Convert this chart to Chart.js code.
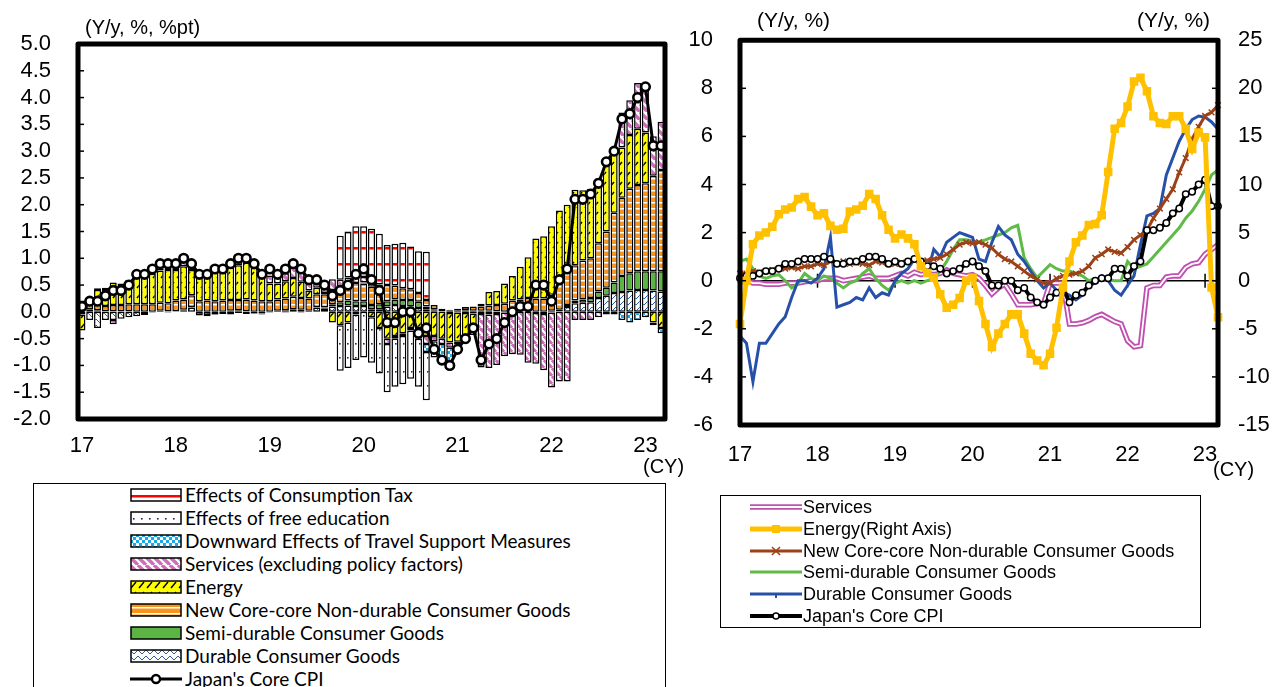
<!DOCTYPE html>
<html>
<head>
<meta charset="utf-8">
<script src="https://cdn.jsdelivr.net/npm/chart.js@4.4.0/dist/chart.umd.min.js"></script>
<style>
  html, body { margin: 0; padding: 0; background: #fff; overflow: hidden; }
  #wrap { position: relative; width: 1275px; height: 687px; font-family: 'Liberation Sans', Arial, sans-serif; color: #000; }
  canvas.chart { position: absolute; }
  .title { position: absolute; font-size: 20px; white-space: nowrap; }
  .cy { position: absolute; font-size: 20px; }
  .legend { position: absolute; border: 1.5px solid #000; box-sizing: border-box; background: transparent; }
  .row { position: relative; display: flex; align-items: center; white-space: nowrap; }
  .row canvas { position: absolute; }
  .row span { position: absolute; }
  #legL { font-family: Lato, 'Open Sans', sans-serif; font-size: 19px; }
  #legR { font-family: 'Liberation Sans', Arial, sans-serif; font-size: 18px; }
</style>
</head>
<body>
<div id="wrap">
  <canvas id="left" class="chart" width="700" height="470" style="left:0;top:0"></canvas>
  <canvas id="right" class="chart" width="585" height="470" style="left:690px;top:0"></canvas>
  <div class="title" style="left:85px;top:16px">(Y/y, %, %pt)</div>
  <div class="title" style="left:757px;top:8px;font-size:21px">(Y/y, %)</div>
  <div class="title" style="left:1137px;top:8px;font-size:21px">(Y/y, %)</div>
  <div class="cy" style="left:643px;top:455px">(CY)</div>
  <div class="cy" style="left:1213px;top:458px">(CY)</div>
  <div id="legL" class="legend" style="left:33px;top:483px;width:633px;height:220px"></div>
  <div id="legR" class="legend" style="left:720px;top:495px;width:481px;height:133px"></div>
</div>
<script>
// year tick labels, one per January
const years = ['17', '18', '19', '20', '21', '22', '23'];

// Japan's core CPI, y/y %, Jan 2017 - Mar 2023
const coreCPI = [
  0.1, 0.2, 0.2, 0.3, 0.4, 0.4, 0.5, 0.7, 0.7, 0.8, 0.9, 0.9,
  0.9, 1.0, 0.9, 0.7, 0.7, 0.8, 0.8, 0.9, 1.0, 1.0, 0.9, 0.7,
  0.8, 0.7, 0.8, 0.9, 0.8, 0.6, 0.6, 0.5, 0.3, 0.4, 0.5, 0.7,
  0.8, 0.6, 0.4, -0.2, -0.2, 0.0, 0.0, -0.4, -0.3, -0.7, -0.9, -1.0,
  -0.7, -0.5, -0.3, -0.9, -0.6, -0.5, -0.2, 0.0, 0.1, 0.1, 0.5, 0.5,
  0.2, 0.6, 0.8, 2.1, 2.1, 2.2, 2.4, 2.8, 3.0, 3.6, 3.7, 4.0,
  4.2, 3.1, 3.1
];

// ---- left chart: contributions, %pt ----
const cDurable = [
  -0.05, -0.15, -0.3, -0.15, -0.15, -0.13, -0.1, -0.08, -0.04, 0.0, 0.0, -0.01,
  0.01, 0.03, 0.08, -0.06, -0.06, -0.05, -0.04, -0.05, -0.02, -0.04, -0.03, -0.03,
  0.0, 0.02, 0.03, 0.05, 0.04, 0.02, 0.08, 0.06, 0.1, 0.11, 0.12, 0.11,
  0.11, 0.05, 0.05, 0.1, 0.13, 0.11, 0.1, 0.07, 0.05, 0.02, 0.0, -0.02,
  -0.01, -0.02, -0.03, -0.04, -0.05, -0.04, -0.01, -0.01, 0.01, 0.0, -0.02, -0.04,
  -0.01, 0.01, 0.09, 0.16, 0.17, 0.18, 0.26, 0.3, 0.35, 0.37, 0.4, 0.41,
  0.41, 0.4, 0.38
];
const cSemi = [
  0.05, 0.05, 0.03, 0.01, 0.01, 0.01, 0.01, 0.0, -0.02, -0.01, 0.02, 0.01,
  0.0, 0.01, 0.01, -0.01, -0.02, -0.01, 0.0, 0.02, 0.03, 0.01, -0.01, -0.02,
  -0.01, 0.0, -0.01, 0.0, -0.01, 0.0, 0.01, 0.02, 0.04, 0.07, 0.09, 0.09,
  0.09, 0.08, 0.09, 0.1, 0.1, 0.11, 0.12, 0.12, 0.05, 0.03, 0.01, 0.02,
  0.03, 0.03, 0.02, 0.02, 0.02, 0.01, 0.0, 0.01, 0.0, 0.0, 0.0, 0.0,
  0.02, 0.03, 0.04, 0.05, 0.06, 0.08, 0.12, 0.15, 0.2, 0.3, 0.32, 0.35,
  0.35, 0.36, 0.38
];
const cNewCore = [
  0.08, 0.08, 0.1, 0.1, 0.12, 0.12, 0.13, 0.14, 0.14, 0.14, 0.15, 0.15,
  0.2, 0.19, 0.22, 0.2, 0.21, 0.2, 0.21, 0.2, 0.19, 0.22, 0.21, 0.2,
  0.2, 0.21, 0.22, 0.23, 0.22, 0.23, 0.24, 0.25, 0.27, 0.3, 0.33, 0.34,
  0.33, 0.34, 0.32, 0.3, 0.26, 0.22, 0.2, 0.16, 0.12, 0.08, 0.05, 0.02,
  0.03, 0.06, 0.08, 0.08, 0.1, 0.12, 0.15, 0.2, 0.22, 0.26, 0.25, 0.25,
  0.3, 0.5, 0.65, 0.66, 0.73, 0.74, 0.9, 1.05, 1.3, 1.46, 1.58, 1.61,
  1.64, 1.78, 1.89
];
const cEnergy = [
  -0.3, 0.05, 0.28, 0.3, 0.42, 0.37, 0.41, 0.55, 0.55, 0.57, 0.6, 0.62,
  0.57, 0.62, 0.47, 0.47, 0.49, 0.56, 0.53, 0.61, 0.65, 0.69, 0.61, 0.45,
  0.33, 0.3, 0.32, 0.35, 0.3, 0.15, 0.12, 0.02, -0.2, -0.25, -0.2, -0.05,
  0.02, -0.1, -0.3, -0.5, -0.45, -0.4, -0.3, -0.3, -0.45, -0.45, -0.5, -0.55,
  -0.55, -0.42, -0.25, 0.05, 0.25, 0.26, 0.38, 0.46, 0.61, 0.76, 1.12, 1.16,
  1.28, 1.35, 1.22, 1.41, 1.31, 1.3, 1.21, 1.31, 1.19, 0.94, 1.0, 1.05,
  0.95, -0.2, -0.3
];
const cServices = [
  0.08, 0.05, 0.03, 0.04, -0.08, 0.03, 0.05, 0.06, 0.07, 0.1, 0.12, 0.13,
  0.12, 0.15, 0.12, 0.1, 0.08, 0.1, 0.1, 0.12, 0.15, 0.12, 0.12, 0.1,
  0.15, 0.18, 0.15, 0.2, 0.17, 0.15, 0.15, 0.17, 0.2, 0.12, 0.1, 0.1,
  0.1, 0.08, 0.05, -0.1, -0.05, -0.05, -0.05, -0.1, -0.15, -0.1, -0.1, -0.1,
  -0.05, -0.05, -0.05, -1.0, -1.0, -0.95, -0.82, -0.78, -0.8, -0.95, -0.95, -1.05,
  -1.4, -1.3, -1.3, -0.15, -0.15, -0.15, -0.1, -0.05, -0.05, 0.65, 0.65, 0.85,
  0.85, 0.74, 0.9
];
const cTravel = [
  0, 0, 0, 0, 0, 0, 0, 0, 0, 0, 0, 0,
  0, 0, 0, 0, 0, 0, 0, 0, 0, 0, 0, 0,
  0, 0, 0, 0, 0, 0, 0, 0, 0, 0, 0, 0,
  0, 0, 0, 0, 0, 0, 0, -0.1, -0.15, -0.2, -0.25, -0.25,
  -0.05, 0, 0, 0, 0, 0, 0, 0, 0, 0, 0, 0,
  0, 0, 0, 0, 0, 0, 0, 0, 0, -0.15, -0.2, -0.15,
  -0.1, -0.05, -0.1
];
const cEducation = [
  0, 0, 0, 0, 0, 0, 0, 0, 0, 0, 0, 0,
  0, 0, 0, 0, 0, 0, 0, 0, 0, 0, 0, 0,
  0, 0, 0, 0, 0, 0, 0, 0, 0, -0.85, -0.85, -0.85,
  -0.85, -0.85, -0.85, -0.9, -0.9, -0.9, -0.9, -0.9, -0.9, -0.1, -0.1, -0.1,
  -0.1, -0.1, -0.1, 0, 0, 0, 0, 0, 0, 0, 0, 0,
  0, 0, 0, 0, 0, 0, 0, 0, 0, 0, 0, 0,
  0, 0, 0
];
const cTax = [
  0, 0, 0, 0, 0, 0, 0, 0, 0, 0, 0, 0,
  0, 0, 0, 0, 0, 0, 0, 0, 0, 0, 0, 0,
  0, 0, 0, 0, 0, 0, 0, 0, 0, 0.82, 0.86, 0.96,
  0.95, 1.0, 0.95, 0.75, 0.78, 0.85, 0.8, 0.78, 0.9, 0, 0, 0,
  0, 0, 0, 0, 0, 0, 0, 0, 0, 0, 0, 0,
  0, 0, 0, 0, 0, 0, 0, 0, 0, 0, 0, 0,
  0, 0, 0
];

// ---- right chart: y/y % ----
const rServices = [
  0.1, 0.0, -0.1, -0.1, -0.15, -0.15, -0.15, -0.1, -0.1, -0.1, -0.05, 0.0,
  0.0, 0.1, 0.1, 0.1, 0.0, 0.05, 0.1, 0.15, 0.2, 0.1, 0.1, 0.1,
  0.2, 0.3, 0.2, 0.35, 0.25, 0.3, 0.25, 0.3, 0.45, 0.3, 0.25, 0.2,
  0.25, 0.1, -0.2, -0.55, -0.3, -0.15, -0.55, -1.0, -1.0, -1.0, -0.95, -0.95,
  -0.1, -0.1, -0.1, -1.8, -1.8, -1.75, -1.65, -1.5, -1.4, -1.55, -1.7, -1.8,
  -2.5, -2.75, -2.7, -0.3, -0.2, -0.2, 0.15, 0.2, 0.2, 0.55, 0.7, 0.75,
  1.1, 1.3, 1.5
];
const rEnergy = [
  -4.5, 0.0, 3.8, 4.7, 5.0, 5.6, 6.9, 7.4, 7.6, 8.5, 8.7, 7.7,
  6.8, 7.0, 5.7, 5.3, 5.4, 7.2, 7.4, 7.8, 9.0, 8.5, 6.8, 5.3,
  4.4, 4.8, 4.4, 3.8, 1.5, 0.8, 0.3, -1.4, -2.8, -2.5, -1.8, 0.0,
  0.3, -2.1, -4.5, -6.9, -5.5, -4.5, -3.5, -3.5, -5.5, -7.6, -8.3, -8.8,
  -7.6, -4.9, -0.7, 2.0, 4.0, 4.7, 5.8, 5.9, 6.8, 11.3, 15.8, 16.4,
  18.1, 20.7, 21.1, 19.7, 17.1, 16.4, 16.3, 17.1, 17.1, 15.8, 13.7, 15.4,
  14.9, -0.7, -3.8
];
const rNewCore = [
  0.3, 0.3, 0.4, 0.35, 0.4, 0.45, 0.5, 0.5, 0.55, 0.5, 0.6, 0.6,
  0.7, 0.65, 0.8, 0.7, 0.8, 0.7, 0.75, 0.7, 0.65, 0.8, 0.75, 0.7,
  0.7, 0.75, 0.8, 0.9, 0.8, 0.85, 0.9, 0.95, 1.1, 1.3, 1.5, 1.6,
  1.55, 1.6, 1.5, 1.35, 1.1, 0.9, 0.8, 0.6, 0.4, 0.2, 0.05, -0.1,
  -0.1, 0.1, 0.2, 0.25, 0.3, 0.4, 0.6, 0.95, 1.1, 1.3, 1.2, 1.15,
  1.4, 1.7, 1.9, 2.1, 2.6, 3.0, 3.4, 3.8, 4.5, 5.1, 5.9, 6.4,
  6.85, 7.0, 7.3
];
const rSemi = [
  0.8, 0.9, 0.5, 0.2, 0.1, 0.2, 0.25, 0.0, -0.3, -0.1, 0.3, 0.1,
  0.0, 0.2, 0.1, -0.1, -0.3, -0.1, 0.0, 0.3, 0.5, 0.1, -0.2, -0.4,
  -0.1, 0.0, -0.1, 0.0, -0.1, 0.0, 0.1, 0.4, 0.8, 1.3, 1.7, 1.7,
  1.65, 1.6, 1.7, 1.8, 1.9, 2.0, 2.2, 2.3, 0.95, 0.5, 0.13, 0.4,
  0.67, 0.5, 0.4, 0.4, 0.3, 0.2, 0.0, 0.1, 0.0, 0.05, 0.0, 0.0,
  0.8, 0.5, 0.6, 0.7, 1.0, 1.3, 1.6, 1.9, 2.2, 2.6, 2.9, 3.3,
  3.8, 4.4, 4.6
];
const rDurable = [
  -2.3, -2.6, -4.2, -2.6, -2.6, -2.2, -1.8, -1.5, -0.7, 0.0, 0.0, -0.1,
  0.1, 0.5, 1.8, -1.1, -1.0, -0.9, -0.7, -0.8, -0.3, -0.7, -0.5, -0.6,
  0.0, 0.3, 0.5, 0.9, 0.6, 0.3, 1.3, 1.0, 1.6, 1.8, 2.0, 1.9,
  1.8, 0.9, 0.8, 1.6, 2.25, 1.9, 1.7, 1.1, 0.8, 0.4, 0.0, -0.3,
  -0.1, -0.4, -0.5, -0.6, -0.8, -0.6, -0.2, -0.1, 0.2, 0.0, -0.4, -0.6,
  -0.2, 0.2, 1.5, 2.7, 2.8, 3.0, 4.4, 5.1, 5.8, 6.3, 6.7, 6.85,
  6.8, 6.6, 6.3
];

// month categories Jan 2017 ... Mar 2023
const months = [];
coreCPI.forEach((_, i) => months.push(`20${years[Math.floor(i / 12)]}-${String(i % 12 + 1).padStart(2, '0')}`));
const yearTick = (v, i) => (i % 12 === 0 ? years[i / 12] : '');

const TICK_FONT = { family: "'Liberation Sans', Arial, sans-serif", size: 22 };

function makePatterns(ctx) {
  function tile(w, h, draw) {
    const c = document.createElement('canvas');
    c.width = w; c.height = h;
    draw(c.getContext('2d'), w, h);
    return ctx.createPattern(c, 'repeat');
  }
  return {
    tax: tile(8, 16, (g, w, h) => {
      g.fillStyle = '#fff'; g.fillRect(0, 0, w, h);
      g.fillStyle = '#ff0000'; g.fillRect(0, 7, w, 2.5);
    }),
    education: tile(8, 14, (g, w, h) => {
      g.fillStyle = '#fff'; g.fillRect(0, 0, w, h);
      g.fillStyle = '#1a2a6c'; g.fillRect(3, 7, 1.6, 1.6);
    }),
    travel: tile(6, 6, (g, w, h) => {
      g.fillStyle = '#fff'; g.fillRect(0, 0, w, h);
      g.fillStyle = '#19a9e6'; g.fillRect(0, 0, 3, 3); g.fillRect(3, 3, 3, 3);
    }),
    services: tile(8, 8, (g, w, h) => {
      g.fillStyle = '#fff'; g.fillRect(0, 0, w, h);
      g.strokeStyle = '#cc6fb8'; g.lineWidth = 3.4;
      for (const o of [-8, 0, 8]) { g.beginPath(); g.moveTo(o, 0); g.lineTo(o + 8, 8); g.stroke(); }
    }),
    energy: tile(8, 10, (g, w, h) => {
      g.fillStyle = '#ffff00'; g.fillRect(0, 0, w, h);
      g.strokeStyle = '#000'; g.lineWidth = 1.4;
      g.beginPath(); g.moveTo(1, 8); g.lineTo(6, 2); g.stroke();
    }),
    newCore: tile(4, 6, (g, w, h) => {
      g.fillStyle = '#f7941d'; g.fillRect(0, 0, w, h);
      g.fillStyle = '#fff'; g.fillRect(0, 4, w, 1.5);
    }),
    semi: '#5cb445',
    durable: tile(8, 6, (g, w, h) => {
      g.fillStyle = '#fff'; g.fillRect(0, 0, w, h);
      g.strokeStyle = '#2e5aac'; g.lineWidth = 1;
      g.beginPath(); g.moveTo(0, 1); g.lineTo(4, 5); g.lineTo(8, 1); g.stroke();
    })
  };
}

// thick frame round the plot area, small ticks inside the value axes
function framePlugin(axisIds, zeroLine) {
  return {
    id: 'frame',
    beforeDatasetsDraw(chart) {
      if (!zeroLine) return;
      const { ctx, chartArea: a, scales } = chart;
      const y0 = scales.y.getPixelForValue(0);
      ctx.save();
      ctx.strokeStyle = '#000'; ctx.lineWidth = 1.5;
      ctx.beginPath(); ctx.moveTo(a.left, y0); ctx.lineTo(a.right, y0); ctx.stroke();
      months.forEach((m, i) => {
        if (i % 12 !== 0 || i === 0) return;
        const x = scales.x.getPixelForValue(i);
        ctx.beginPath(); ctx.moveTo(x, y0 - 7); ctx.lineTo(x, y0 + 7); ctx.stroke();
      });
      ctx.restore();
    },
    afterDatasetsDraw(chart) {
      const { ctx, chartArea: a, scales } = chart;
      ctx.save();
      ctx.strokeStyle = '#000';
      ctx.lineWidth = 1.5;
      axisIds.forEach(id => {
        const s = scales[id];
        s.ticks.forEach(t => {
          const y = s.getPixelForValue(t.value);
          ctx.beginPath();
          if (s.position === 'left') { ctx.moveTo(a.left, y); ctx.lineTo(a.left + 6, y); }
          else { ctx.moveTo(a.right - 6, y); ctx.lineTo(a.right, y); }
          ctx.stroke();
        });
      });
      ctx.lineWidth = 5;
      ctx.lineJoin = 'round';
      ctx.strokeRect(a.left, a.top, a.right - a.left, a.bottom - a.top);
      ctx.restore();
    }
  };
}

// ---------- left chart ----------
const leftCtx = document.getElementById('left').getContext('2d');
const patL = makePatterns(leftCtx);

function barSet(label, data, fill) {
  return {
    type: 'bar', label, data: data.map(v => (v === 0 ? null : v)),
    backgroundColor: fill, borderColor: '#000', borderWidth: 1.5, borderSkipped: false,
    barPercentage: 0.9, categoryPercentage: 1.0, stack: 'parts', order: 1
  };
}

new Chart(leftCtx, {
  data: {
    labels: months,
    datasets: [
      barSet('Durable Consumer Goods', cDurable, patL.durable),
      barSet('Semi-durable Consumer Goods', cSemi, patL.semi),
      barSet('New Core-core Non-durable Consumer Goods', cNewCore, patL.newCore),
      barSet('Energy', cEnergy, patL.energy),
      barSet('Services (excluding policy factors)', cServices, patL.services),
      barSet('Downward Effects of Travel Support Measures', cTravel, patL.travel),
      barSet('Effects of free education', cEducation, patL.education),
      barSet('Effects of Consumption Tax', cTax, patL.tax),
      {
        type: 'line', label: "Japan's Core CPI", data: coreCPI, stack: 'cpi', order: 0,
        borderColor: '#000', borderWidth: 3, tension: 0,
        pointRadius: 4.3, pointBackgroundColor: '#fff', pointBorderColor: '#000', pointBorderWidth: 2.6
      }
    ]
  },
  options: {
    responsive: false, animation: false, devicePixelRatio: 1,
    layout: { padding: { top: 44, right: 35, left: 0, bottom: 0 } },
    plugins: { legend: { display: false }, tooltip: { enabled: false } },
    scales: {
      x: {
        stacked: true, offset: true,
        grid: { display: false, drawTicks: false }, border: { display: false },
        ticks: { autoSkip: false, maxRotation: 0, color: '#000', font: TICK_FONT, padding: 14, callback: yearTick },
        afterFit: s => { s.height = 51; }
      },
      y: {
        stacked: true, min: -2, max: 5,
        grid: { display: false, drawTicks: false }, border: { display: false },
        ticks: { stepSize: 0.5, autoSkip: false, color: '#000', font: TICK_FONT, padding: 27, callback: v => v.toFixed(1) },
        afterFit: s => { s.width = 78; }
      }
    }
  },
  plugins: [framePlugin(['y'], false)]
});

// ---------- right chart ----------
const rightCtx = document.getElementById('right').getContext('2d');
const lineBase = { type: 'line', tension: 0, fill: false, pointRadius: 0, yAxisID: 'y' };

new Chart(rightCtx, {
  data: {
    labels: months,
    datasets: [
      { ...lineBase, label: 'Services', data: rServices, borderColor: '#c050b0', borderWidth: 5.5, order: 10 },
      { ...lineBase, label: 'Services inner', data: rServices, borderColor: '#fff', borderWidth: 1.8, order: 9 },
      { ...lineBase, label: 'Semi-durable Consumer Goods', data: rSemi, borderColor: '#5ebb47', borderWidth: 3, order: 8 },
      { ...lineBase, label: 'Durable Consumer Goods', data: rDurable, borderColor: '#2751a8', borderWidth: 3, order: 7 },
      {
        ...lineBase, label: 'New Core-core Non-durable Consumer Goods', data: rNewCore,
        borderColor: '#9c4118', borderWidth: 3, order: 6,
        pointStyle: 'crossRot', pointRadius: 4, pointBorderColor: '#9c4118', pointBorderWidth: 1.5
      },
      {
        ...lineBase, label: "Japan's Core CPI", data: coreCPI, borderColor: '#000', borderWidth: 4, order: 5,
        pointRadius: 3.2, pointBackgroundColor: '#fff', pointBorderColor: '#000', pointBorderWidth: 1.5
      },
      {
        ...lineBase, label: 'Energy(Right Axis)', data: rEnergy, yAxisID: 'y2',
        borderColor: '#ffc000', borderWidth: 5, order: 4,
        pointStyle: 'rect', pointRadius: 2.5, pointBackgroundColor: '#ffc000', pointBorderColor: '#ffc000'
      }
    ]
  },
  options: {
    responsive: false, animation: false, devicePixelRatio: 1,
    layout: { padding: { top: 37, right: 0, left: 0, bottom: 0 } },
    plugins: { legend: { display: false }, tooltip: { enabled: false } },
    scales: {
      x: {
        offset: false,
        grid: { display: false, drawTicks: false }, border: { display: false },
        ticks: { autoSkip: false, maxRotation: 0, color: '#000', font: TICK_FONT, padding: 17, callback: yearTick },
        afterFit: s => { s.height = 45; }
      },
      y: {
        position: 'left', min: -6, max: 10,
        grid: { display: false, drawTicks: false }, border: { display: false },
        ticks: { stepSize: 2, autoSkip: false, color: '#000', font: TICK_FONT, padding: 27 },
        afterFit: s => { s.width = 50; }
      },
      y2: {
        position: 'right', min: -15, max: 25,
        grid: { display: false, drawTicks: false }, border: { display: false },
        ticks: { stepSize: 5, autoSkip: false, color: '#000', font: TICK_FONT, padding: 20 },
        afterFit: s => { s.width = 57; }
      }
    }
  },
  plugins: [framePlugin(['y', 'y2'], true)]
});

// ---------- legends ----------
const legendLeft = [
  ['Effects of Consumption Tax', 'tax'],
  ['Effects of free education', 'education'],
  ['Downward Effects of Travel Support Measures', 'travel'],
  ['Services (excluding policy factors)', 'services'],
  ['Energy', 'energy'],
  ['New Core-core Non-durable Consumer Goods', 'newCore'],
  ['Semi-durable Consumer Goods', 'semi'],
  ['Durable Consumer Goods', 'durable'],
  ["Japan's Core CPI", 'line']
];
const legendRight = [
  ['Services', 'services'],
  ['Energy(Right Axis)', 'energy'],
  ['New Core-core Non-durable Consumer Goods', 'newCore'],
  ['Semi-durable Consumer Goods', 'semi'],
  ['Durable Consumer Goods', 'durable'],
  ["Japan's Core CPI", 'core']
];

const legL = document.getElementById('legL');
legendLeft.forEach(([text, key]) => {
  const row = document.createElement('div');
  row.className = 'row'; row.style.height = '23px';
  const c = document.createElement('canvas');
  c.width = 52; c.height = 14; c.style.left = '96px'; c.style.top = '4px';
  const g = c.getContext('2d');
  if (key === 'line') {
    g.strokeStyle = '#000'; g.lineWidth = 3;
    g.beginPath(); g.moveTo(0, 7); g.lineTo(52, 7); g.stroke();
    g.fillStyle = '#fff'; g.lineWidth = 2.4;
    g.beginPath(); g.arc(26, 7, 4, 0, Math.PI * 2); g.fill(); g.stroke();
  } else {
    const p = makePatterns(g);
    g.fillStyle = p[key]; g.fillRect(1, 1, 50, 12);
    g.strokeStyle = '#000'; g.lineWidth = 1.5; g.strokeRect(1, 1, 50, 12);
  }
  const s = document.createElement('span');
  s.textContent = text; s.style.left = '151px'; s.style.top = '0px'; s.style.lineHeight = '22px';
  row.appendChild(c); row.appendChild(s);
  legL.appendChild(row);
});

const legR = document.getElementById('legR');
legendRight.forEach(([text, key]) => {
  const row = document.createElement('div');
  row.className = 'row'; row.style.height = '21.8px';
  const c = document.createElement('canvas');
  c.width = 52; c.height = 14; c.style.left = '29px'; c.style.top = '4px';
  const g = c.getContext('2d');
  const ln = (color, w) => { g.strokeStyle = color; g.lineWidth = w; g.beginPath(); g.moveTo(0, 7); g.lineTo(52, 7); g.stroke(); };
  if (key === 'services') { ln('#c050b0', 5.5); ln('#fff', 1.8); }
  if (key === 'energy') { ln('#ffc000', 5); g.fillStyle = '#ffc000'; g.fillRect(22, 3, 8, 8); }
  if (key === 'newCore') {
    ln('#9c4118', 3); g.lineWidth = 1.5;
    g.beginPath(); g.moveTo(22, 3); g.lineTo(30, 11); g.moveTo(30, 3); g.lineTo(22, 11); g.stroke();
  }
  if (key === 'semi') ln('#5ebb47', 3);
  if (key === 'durable') { ln('#2751a8', 3); g.fillStyle = '#2751a8'; g.fillRect(25, 7, 2, 4); }
  if (key === 'core') {
    ln('#000', 4); g.fillStyle = '#fff'; g.lineWidth = 1.5;
    g.beginPath(); g.arc(26, 7, 3, 0, Math.PI * 2); g.fill(); g.stroke();
  }
  const s = document.createElement('span');
  s.textContent = text; s.style.left = '82px'; s.style.top = '0px'; s.style.lineHeight = '22px';
  row.appendChild(c); row.appendChild(s);
  legR.appendChild(row);
});
</script>
</body>
</html>
